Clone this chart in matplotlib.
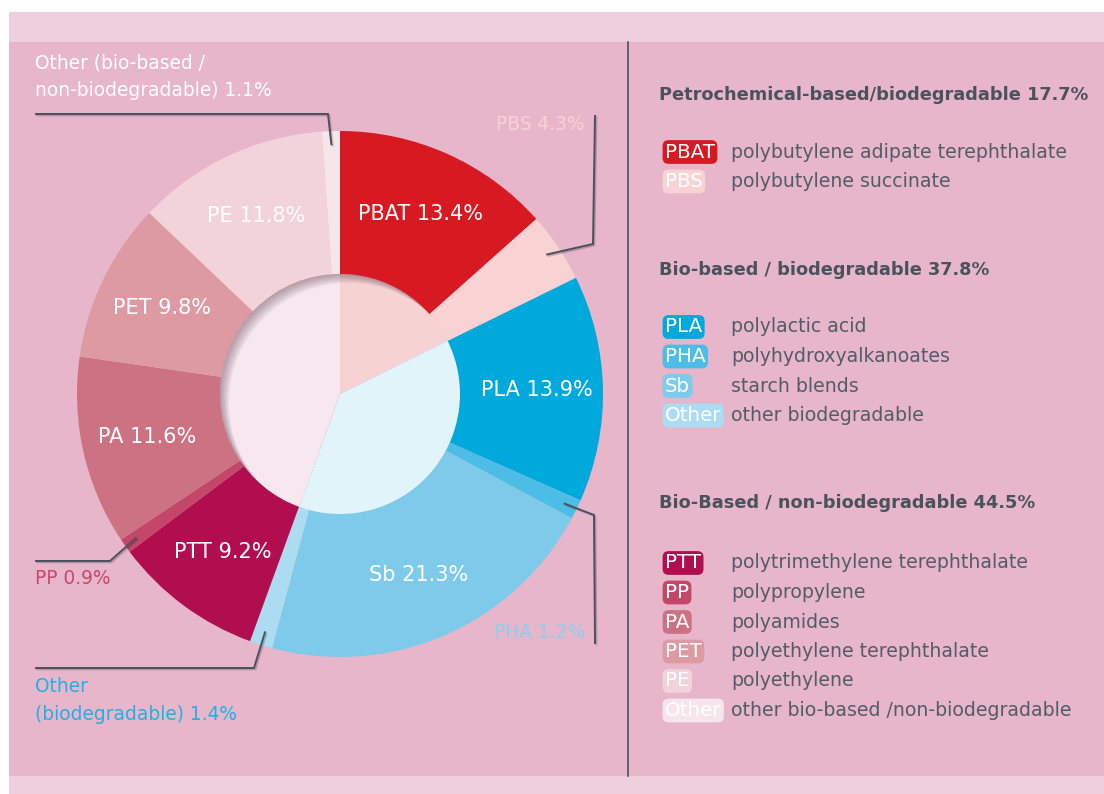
import numpy as np
import matplotlib
matplotlib.use("Agg")
import matplotlib.pyplot as plt
from matplotlib.patches import Rectangle, Circle, Wedge
import matplotlib.patheffects as pe

W, H = 1104, 794

# outer ring, clockwise from 12 o'clock
segment_names = ["PBAT", "PBS", "PLA", "PHA", "Sb", "Other",
                 "PTT", "PP", "PA", "PET", "PE", "Other"]
segment_shares = [13.4, 4.3, 13.9, 1.2, 21.3, 1.4, 9.2, 0.9, 11.6, 9.8, 11.8, 1.1]
segment_colors = ["#d71a21", "#f9d3d3", "#00a9dc", "#4cbde6", "#7ecaea", "#abdcf1",
                  "#b10e50", "#c4476a", "#cd7282", "#dd9aa3", "#f1d3d9", "#f6e5ea"]
descriptions = ["polybutylene adipate terephthalate", "polybutylene succinate",
                "polylactic acid", "polyhydroxyalkanoates", "starch blends",
                "other biodegradable", "polytrimethylene terephthalate",
                "polypropylene", "polyamides", "polyethylene terephthalate",
                "polyethylene", "other bio-based /non-biodegradable"]

# inner pie
group_names = ["Petrochemical-based/biodegradable", "Bio-based / biodegradable",
               "Bio-Based / non-biodegradable"]
group_shares = [17.7, 37.8, 44.5]
group_colors = ["#f6d2d3", "#e1f4fa", "#f7e8ef"]
group_members = [[0, 1], [2, 3, 4, 5], [6, 7, 8, 9, 10, 11]]

DARK = "#4a525c"
GREY = "#545c66"

fig = plt.figure(figsize=(W / 100, H / 100), dpi=100)
ax = fig.add_axes([0, 0, 1, 1])

cx, cy = 340, H - 394
R, r_in = 263, 120

wedges, _ = ax.pie(segment_shares, colors=segment_colors, startangle=90,
                   counterclock=False, radius=R, center=(cx, cy),
                   wedgeprops=dict(linewidth=0))
inner, _ = ax.pie(group_shares, colors=group_colors, startangle=90,
                  counterclock=False, radius=r_in, center=(cx, cy),
                  wedgeprops=dict(linewidth=0))
for w in wedges + inner:
    w.set_zorder(3)

# background
ax.add_patch(Rectangle((9, 0), W - 9, H - 12, fc="#efcfdc", ec="none", zorder=0))
ax.add_patch(Rectangle((9, H - 776), W - 9, 776 - 42, fc="#e7b6cb", ec="none", zorder=0))

# inset shadow on the inner circle
clip = Circle((cx, cy), r_in, transform=ax.transData)
for d in range(1, 10):
    sh = Wedge((cx + d, cy - d), r_in + 60, 0, 360, width=60,
               fc="#5a3a4a", ec="none", alpha=0.055, zorder=4)
    ax.add_patch(sh)
    sh.set_clip_path(clip)

# labels inside the ring
for w, name, share in zip(wedges, segment_names, segment_shares):
    if share < 5:
        continue
    a = np.deg2rad((w.theta1 + w.theta2) / 2)
    ax.text(cx + 0.75 * R * np.cos(a), cy + 0.75 * R * np.sin(a), f"{name} {share}%",
            color="white", fontsize=15, ha="center", va="center", zorder=5)


def mid_point(i, f=0.95):
    w = wedges[i]
    a = np.deg2rad((w.theta1 + w.theta2) / 2)
    return cx + f * R * np.cos(a), cy + f * R * np.sin(a)


shadow = [pe.SimpleLineShadow(offset=(1, -1), alpha=0.2), pe.Normal()]


def leader(pts_px, i):
    ex, ey = mid_point(i)
    xs = [p[0] for p in pts_px] + [ex]
    ys = [H - p[1] for p in pts_px] + [ey]
    ax.plot(xs, ys, color=DARK, lw=1.4, zorder=6, path_effects=shadow,
            solid_joinstyle="miter")


LBL = 13.4
# leader labels for the thin slices
leader([(36, 114), (328, 114)], 11)
ax.text(35, H - 77, f"Other (bio-based /\nnon-biodegradable) {segment_shares[11]}%",
        color="white", fontsize=LBL, ha="left", va="center", linespacing=1.6)

leader([(595, 116), (593, 244)], 1)
ax.text(585, H - 124, f"{segment_names[1]} {segment_shares[1]}%", color="#f7d2d5",
        fontsize=LBL, ha="right", va="center")

leader([(595, 643), (594, 515)], 3)
ax.text(585, H - 632, f"{segment_names[3]} {segment_shares[3]}%", color="#8ccfee",
        fontsize=LBL, ha="right", va="center")

leader([(36, 561), (110, 561)], 7)
ax.text(35, H - 578, f"{segment_names[7]} {segment_shares[7]}%", color="#c6496c",
        fontsize=LBL, ha="left", va="center")

leader([(36, 668), (254, 668)], 5)
ax.text(35, H - 701, f"Other\n(biodegradable) {segment_shares[5]}%", color="#1fb1e3",
        fontsize=LBL, ha="left", va="center", linespacing=1.6)

# divider
ax.plot([628, 628], [H - 42, H - 776], color=DARK, lw=1.2, zorder=2)

# legend on the right
heading_y = [95, 270, 503]
first_row_y = [152, 327, 563]
row_step = 29.5
for g in range(3):
    ax.text(659, H - heading_y[g], f"{group_names[g]} {group_shares[g]}%",
            color=DARK, fontsize=12.8, fontweight="bold", ha="left", va="center")
    for k, i in enumerate(group_members[g]):
        y = H - (first_row_y[g] + k * row_step)
        ax.text(665, y, segment_names[i], color="white", fontsize=14.3,
                ha="left", va="center",
                bbox=dict(boxstyle="round,pad=0.12,rounding_size=0.3",
                          fc=segment_colors[i], ec="none"))
        ax.text(731, y, descriptions[i], color=GREY, fontsize=13.6,
                ha="left", va="center")

ax.set_xlim(0, W)
ax.set_ylim(0, H)
ax.set_aspect("equal")
ax.axis("off")
fig.patch.set_facecolor("white")
fig.savefig("out.png", dpi=100, facecolor="white")
